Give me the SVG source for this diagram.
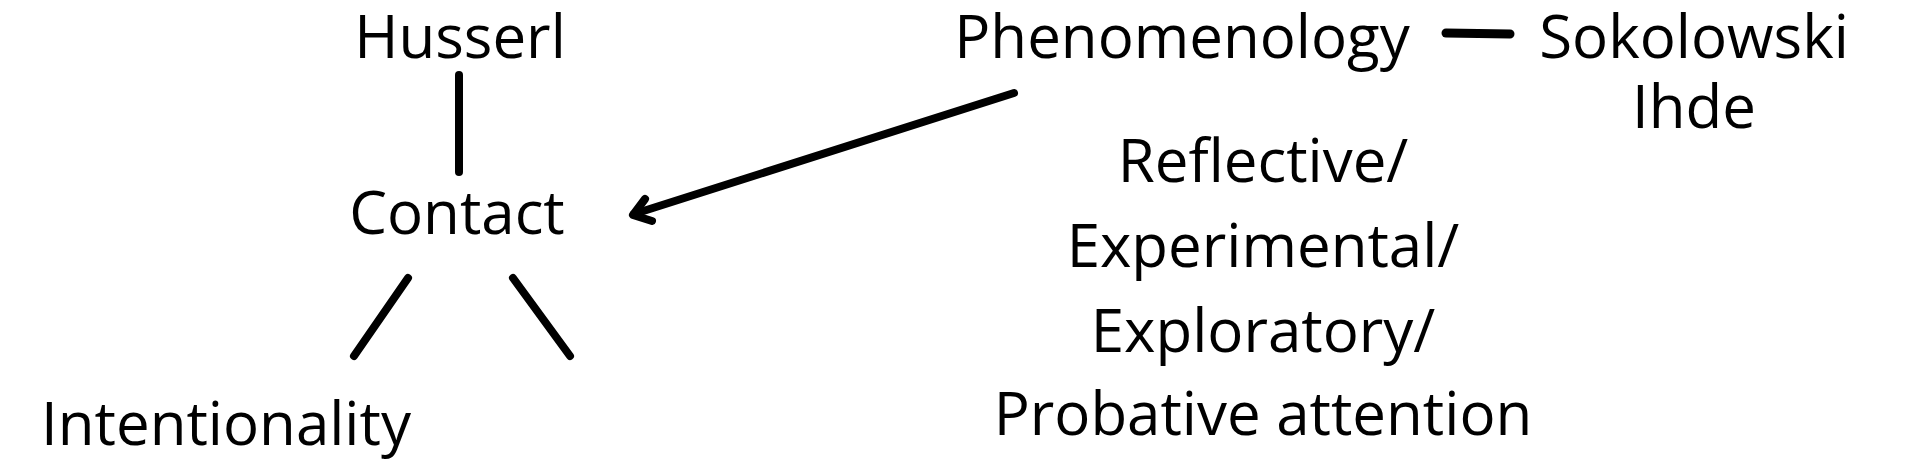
<svg xmlns="http://www.w3.org/2000/svg" width="1920" height="471" viewBox="0 0 1920 471">
<style>
text{font-family:"Open Sans","Noto Sans","Liberation Sans",sans-serif;font-size:60px;fill:#000;text-anchor:middle}
.c{fill:none;stroke:#000;stroke-width:8;stroke-linecap:round;stroke-linejoin:round}
</style>
<rect width="1920" height="471" fill="#fff"/>
<g id="connectors">
<line class="c" x1="459" y1="75" x2="459" y2="172"/>
<line class="c" x1="408" y1="278" x2="354" y2="356"/>
<line class="c" x1="513" y1="278" x2="570" y2="356"/>
<line class="c" x1="1446" y1="33" x2="1510" y2="34" style="stroke-width:9"/>
<line class="c" x1="1014" y1="93" x2="634" y2="214"/>
<polyline class="c" points="645,199 633,215 652,221"/>
</g>
<g id="husserl"><text x="460" y="58">Husserl</text></g>
<g id="contact"><text x="457" y="234">Contact</text></g>
<g id="intentionality"><text x="226" y="445">Intentionality</text></g>
<g id="phenomenology"><text x="1182" y="58">Phenomenology</text></g>
<g id="sokolowski"><text x="1694" y="58">Sokolowski</text><text x="1694" y="128">Ihde</text></g>
<g id="attention">
<text x="1263" y="182">Reflective/</text>
<text x="1263" y="267">Experimental/</text>
<text x="1263" y="352">Exploratory/</text>
<text x="1263" y="435">Probative attention</text>
</g>
</svg>
